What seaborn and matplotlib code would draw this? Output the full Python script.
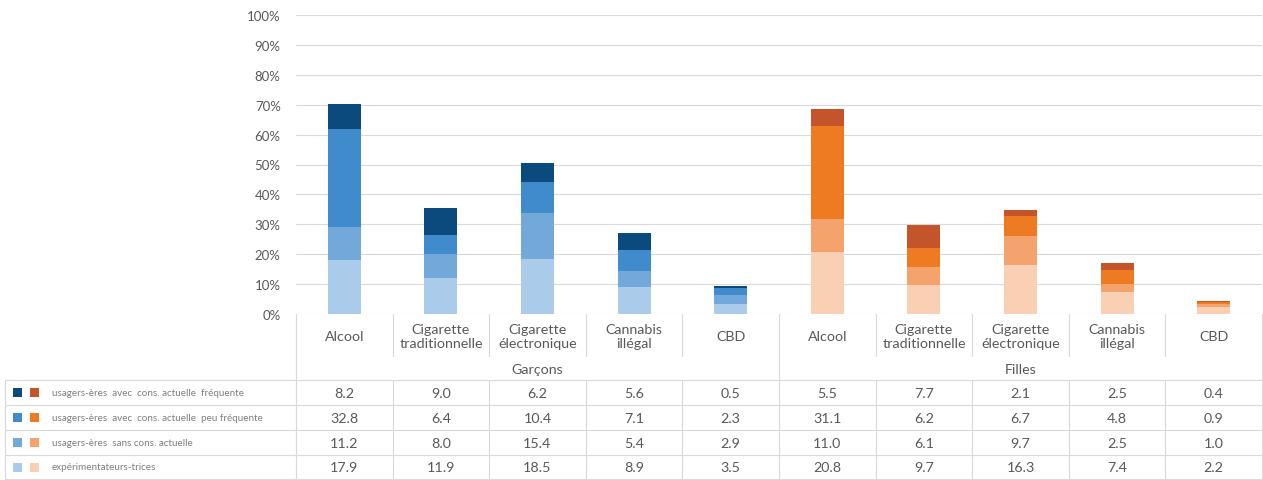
import matplotlib.pyplot as plt
import numpy as np
import pandas as pd
import seaborn as sns
from matplotlib.patches import Rectangle

groupes = ['Garçons', 'Filles']
produits = ['Alcool', 'Cigarette\ntraditionnelle', 'Cigarette\nélectronique', 'Cannabis\nillégal', 'CBD']
series = ['usagers-ères  avec  cons. actuelle  fréquente',
          'usagers-ères  avec  cons. actuelle  peu fréquente',
          'usagers-ères  sans cons. actuelle',
          'expérimentateurs-trices']
# one value per bar: 5 products for boys, then 5 for girls
frequente = [8.2, 9.0, 6.2, 5.6, 0.5, 5.5, 7.7, 2.1, 2.5, 0.4]
peu_frequente = [32.8, 6.4, 10.4, 7.1, 2.3, 31.1, 6.2, 6.7, 4.8, 0.9]
sans_conso = [11.2, 8.0, 15.4, 5.4, 2.9, 11.0, 6.1, 9.7, 2.5, 1.0]
experimentateurs = [17.9, 11.9, 18.5, 8.9, 3.5, 20.8, 9.7, 16.3, 7.4, 2.2]

# same order as series (top of stack first)
couleurs_garcons = ['#0b4a7d', '#3f8bcb', '#73a8da', '#abcbea']
couleurs_filles = ['#c4552b', '#ee7b22', '#f3a36b', '#f9d0b4']
gris_texte = '#595959'
gris_ligne = '#d9d9d9'

sns.set_style('white')
plt.rcParams['font.family'] = ['Lato', 'DejaVu Sans']

W, H = 1263, 481
fig = plt.figure(figsize=(W / 100, H / 100), dpi=100)
x0, x1, y0, y1 = 296, 1262, 315, 16
ax = fig.add_axes([x0 / W, 1 - y0 / H, (x1 - x0) / W, (y0 - y1) / H])

df = pd.DataFrame({'groupe': np.repeat(groupes, len(produits)),
                   'produit': produits * len(groupes)})
df['cle'] = df['groupe'] + '|' + df['produit']

lignes = [frequente, peu_frequente, sans_conso, experimentateurs]
# cumulative heights, bottom layer = experimentateurs
cumul = np.cumsum(np.array(lignes[::-1]), axis=0)[::-1]

for k in range(len(lignes)):
    df['y'] = cumul[k]
    sns.barplot(data=df, x='cle', y='y', hue='groupe', order=list(df['cle']),
                palette={'Garçons': couleurs_garcons[k], 'Filles': couleurs_filles[k]},
                dodge=False, width=0.34, saturation=1, legend=False,
                linewidth=0, ax=ax, zorder=2)

ax.set_ylim(0, 100)
ax.set_xlim(-0.5, len(df) - 0.5)
ax.set_yticks(np.arange(0, 101, 10))
ax.set_yticklabels([f'{v}%' for v in range(0, 101, 10)], color=gris_texte, fontsize=9.5)
ax.set_xticks([])
ax.set_xlabel('')
ax.set_ylabel('')
ax.tick_params(axis='y', length=0, pad=11)
ax.yaxis.grid(True, color=gris_ligne, linewidth=0.8, zorder=0)
for s in ax.spines.values():
    s.set_visible(False)

# data table below the chart, drawn in pixel coordinates
tab = fig.add_axes([0, 0, 1, 1], facecolor='none')
tab.set_xlim(0, W)
tab.set_ylim(H, 0)
tab.axis('off')

n = len(df)
col_w = (x1 - x0) / n
lk = dict(color=gris_ligne, linewidth=0.8)
y_cat, y_grp, y_rows = 357, 381, [381, 406, 431, 456, 480]

for i in range(n + 1):
    xc = x0 + i * col_w
    if i % len(produits) == 0:
        tab.plot([xc, xc], [y0, y_rows[-1]], **lk)
    else:
        tab.plot([xc, xc], [y0, y_cat], **lk)
        tab.plot([xc, xc], [y_grp, y_rows[-1]], **lk)
tab.plot([5, 5], [y_rows[0], y_rows[-1]], **lk)
for yr in y_rows:
    tab.plot([5, x1], [yr, yr], **lk)

for i, p in enumerate(df['produit']):
    tab.text(x0 + (i + 0.5) * col_w, (y0 + y_cat) / 2 + 1, p, ha='center', va='center',
             fontsize=10.3, color=gris_texte, linespacing=1.2)
for g, nom in enumerate(groupes):
    xm = x0 + (g + 0.5) * len(produits) * col_w
    tab.text(xm, (y_cat + y_grp) / 2 + 1, nom, ha='center', va='center',
             fontsize=10.3, color=gris_texte)

for r, (nom, vals) in enumerate(zip(series, lignes)):
    yc = (y_rows[r] + y_rows[r + 1]) / 2
    tab.add_patch(Rectangle((13, yc - 4.5), 9, 9, color=couleurs_garcons[r], lw=0))
    tab.add_patch(Rectangle((30, yc - 4.5), 9, 9, color=couleurs_filles[r], lw=0))
    tab.text(52, yc, nom, ha='left', va='center', fontsize=7.1, color='#7f7f7f')
    for i, v in enumerate(vals):
        tab.text(x0 + (i + 0.5) * col_w, yc + 0.5, f'{v:.1f}', ha='center', va='center',
                 fontsize=10.3, color=gris_texte)

fig.savefig('out.png', dpi=100)
